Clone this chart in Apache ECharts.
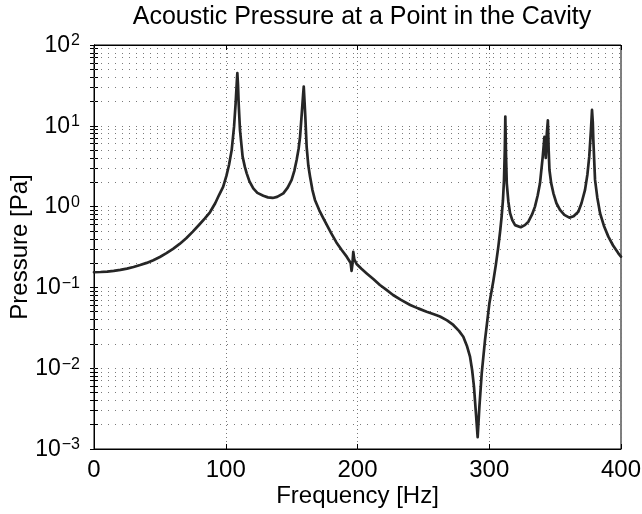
<!DOCTYPE html>
<html>
<head>
<meta charset="utf-8">
<script src="https://cdn.jsdelivr.net/npm/echarts@6/dist/echarts.min.js"></script>
<style>
html,body{margin:0;padding:0;background:#fff;}
#chart{width:642px;height:514px;}
</style>
</head>
<body>
<div id="chart"></div>
<script>
// Frequency [Hz] samples
const freq = [
  0, 5, 10, 15, 20, 25, 30, 35, 40, 45, 50, 55, 60, 65, 70, 75, 80, 84, 88, 92, 95, 98,
  100.5, 102.5, 104.5, 106.3, 107.5, 108.4, 108.8, 109.3, 109.8, 110.8, 112.8, 114.5, 115.9,
  118, 120.9, 124, 128.5, 132, 135.6, 139, 143.7, 147, 150, 152, 153.8, 155.3, 156.4, 157.9,
  158.7, 159.2, 159.8, 160.4, 161.4, 162.7, 164, 165.8, 167.7, 171, 174, 177, 180, 184, 188,
  191.8, 194.8, 195.5, 196.1, 196.8, 197.6, 199.3, 203, 207, 212, 217, 222, 227, 233, 240,
  246, 252.5, 258, 262.6, 268, 272.7, 277, 280.3, 283, 285.4, 287, 288.4, 289.9, 291.2,
  292.5, 294.3, 296.8, 300.1, 303.1, 305, 306.9, 308.3, 309.4, 310.4, 311.2, 311.8, 312.2,
  312.7, 313.3, 314.5, 315.8, 317.5, 319.6, 323.9, 327, 329.7, 332.5, 334.7, 336.8, 338.5,
  340.6, 341.9, 342.9, 343.7, 344.5, 345.1, 345.7, 347, 348.7, 351, 353.7, 357, 360.8, 364,
  367.6, 370, 372.7, 374.5, 375.9, 377.2, 378, 378.6, 379, 380.3, 382, 384.1, 387, 390.4,
  394, 398, 400
];
// Pressure [Pa] at each frequency
const pressure = [
  0.154, 0.155, 0.157, 0.160, 0.165, 0.171, 0.179, 0.189, 0.201, 0.217, 0.238, 0.265, 0.300, 0.345, 0.405, 0.49, 0.60, 0.71, 0.85, 1.1, 1.4, 1.75,
  2.4, 3.3, 5.0, 9.75, 19, 35, 45, 32, 19, 8.9, 4.15, 3.1, 2.58,
  2.05, 1.68, 1.48, 1.36, 1.30, 1.28, 1.32, 1.46, 1.72, 2.14, 2.75, 3.77, 5.2, 7.3, 15.7,
  24, 30.5, 20, 12.9, 5.5, 3.2, 2.34, 1.6, 1.21, 0.9, 0.72, 0.58, 0.47, 0.36, 0.29,
  0.24, 0.20, 0.16, 0.19, 0.275, 0.22, 0.195, 0.17, 0.149, 0.127, 0.107, 0.093, 0.0805, 0.07, 0.0605,
  0.055, 0.050, 0.0465, 0.0436, 0.039, 0.0343, 0.029, 0.0245, 0.019, 0.0139, 0.0095, 0.0059, 0.00275, 0.0014,
  0.0033, 0.0087, 0.0224, 0.0635, 0.12, 0.19, 0.32, 0.5, 0.75, 1.2, 2.14, 5, 13,
  4.5, 1.94, 1.15, 0.83, 0.68, 0.59, 0.555, 0.59, 0.65, 0.8, 1.0, 1.38, 1.94,
  4.15, 7.3, 4.0, 8, 11.7, 5, 2.84, 1.95, 1.46, 1.1, 0.91, 0.79, 0.73, 0.76,
  0.865, 1.1, 1.61, 2.5, 4.15, 8.9, 15.7, 11, 6.7, 2.14, 1.3, 0.83, 0.58, 0.425,
  0.33, 0.264, 0.24
];
// Axis ticks
const xTicks = [0, 100, 200, 300, 400];
const yExponents = [-3, -2, -1, 0, 1, 2];

const yMin = Math.pow(10, yExponents[0]);
const yMax = Math.pow(10, yExponents[yExponents.length - 1]);

// minor grid/tick values 2..9 x 10^k
const minorVals = [];
const allTickVals = [];
for (let i = 0; i < yExponents.length; i++) {
  const base = Math.pow(10, yExponents[i]);
  allTickVals.push(base);
  if (i < yExponents.length - 1) {
    for (let m = 2; m <= 9; m++) {
      minorVals.push(m * base);
      allTickVals.push(m * base);
    }
  }
}

const seriesData = freq.map((f, i) => [f, pressure[i]]);

const FONT = '"Liberation Sans", Arial, Helvetica, sans-serif';
const gridStyle = { color: '#7a7a7a', type: [1, 6], width: 1 };

const chart = echarts.init(document.getElementById('chart'), null, { renderer: 'canvas' });
chart.setOption({
  backgroundColor: '#ffffff',
  animation: false,
  title: {
    text: 'Acoustic Pressure at a Point in the Cavity',
    left: 357,
    textAlign: 'center',
    top: 0,
    textStyle: { fontFamily: FONT, fontSize: 25, fontWeight: 'normal', color: '#000' }
  },
  grid: {
    left: 94, top: 45, width: 527, height: 404,
    containLabel: false,
    outerBoundsMode: 'none',
    show: true, borderColor: '#000', borderWidth: 1, backgroundColor: 'transparent'
  },
  xAxis: [
    {
      type: 'value', min: xTicks[0], max: xTicks[xTicks.length - 1], interval: 100,
      name: 'Frequency [Hz]', nameLocation: 'middle', nameGap: 35, nameMoveOverlap: false,
      nameTextStyle: { fontFamily: FONT, fontSize: 24, color: '#000' },
      axisLine: { show: true, lineStyle: { color: '#000', width: 1 } },
      axisTick: { show: true, inside: true, length: 5, lineStyle: { color: '#000' } },
      axisLabel: { fontFamily: FONT, fontSize: 24, color: '#000', margin: 9 },
      splitLine: { show: true, lineStyle: { color: '#7a7a7a', type: [1, 3], width: 1 } }
    },
    {
      type: 'value', position: 'top', min: xTicks[0], max: xTicks[xTicks.length - 1], interval: 100,
      axisLine: { show: true, lineStyle: { color: '#000', width: 1 } },
      axisTick: { show: true, inside: true, length: 5, lineStyle: { color: '#000' } },
      axisLabel: { show: false },
      splitLine: { show: false }
    }
  ],
  yAxis: [
    {
      type: 'log', logBase: 10, min: yMin, max: yMax, interval: 1,
      name: 'Pressure [Pa]', nameLocation: 'middle', nameGap: 62, nameRotate: 90, nameMoveOverlap: false,
      nameTextStyle: { fontFamily: FONT, fontSize: 24, color: '#000' },
      axisLine: { show: true, lineStyle: { color: '#000', width: 1 } },
      axisTick: { show: true, inside: true, length: 4, customValues: allTickVals, lineStyle: { color: '#000' } },
      axisLabel: {
        margin: 14,
        formatter: function (v) {
          const e = Math.round(Math.log10(v));
          const es = e < 0 ? '\u2212' + (-e) : String(e);
          return '{b|10}{e|' + es + '}';
        },
        rich: {
          b: { fontFamily: FONT, fontSize: 23, color: '#000', verticalAlign: 'bottom', lineHeight: 24 },
          e: { fontFamily: FONT, fontSize: 16, color: '#000', verticalAlign: 'top', lineHeight: 16, padding: [0, 0, 15, 1] }
        }
      },
      splitLine: { show: true, lineStyle: gridStyle }
    },
    {
      type: 'log', logBase: 10, min: yMin, max: yMax, interval: 1, position: 'right',
      axisLine: { show: true, lineStyle: { color: '#000', width: 1 } },
      axisTick: { show: true, inside: true, length: 4, customValues: allTickVals, lineStyle: { color: '#000' } },
      axisLabel: { show: false },
      splitLine: { show: false }
    }
  ],
  series: [
    {
      type: 'line',
      data: seriesData,
      xAxisIndex: 0,
      yAxisIndex: 0,
      showSymbol: false,
      symbol: 'none',
      smooth: false,
      lineStyle: { color: '#262626', width: 2.7, join: 'round', cap: 'round' },
      z: 5,
      markLine: {
        silent: true,
        symbol: ['none', 'none'],
        label: { show: false },
        lineStyle: gridStyle,
        animation: false,
        emphasis: { disabled: true },
        data: minorVals.map(v => ({ yAxis: v }))
      }
    }
  ]
});
</script>
</body>
</html>
